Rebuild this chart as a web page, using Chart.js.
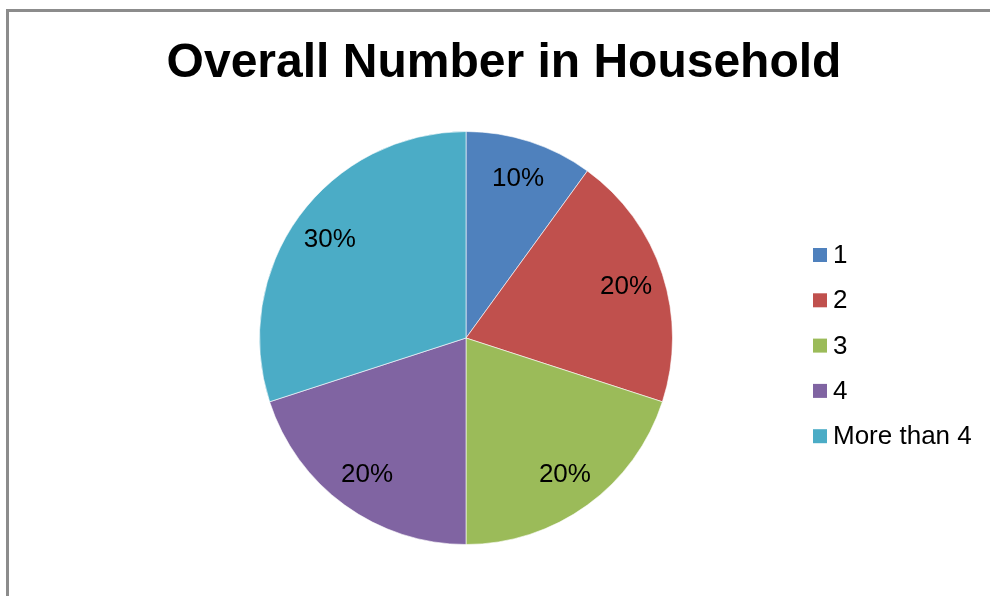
<!DOCTYPE html>
<html>
<head>
<meta charset="utf-8">
<script src="https://cdn.jsdelivr.net/npm/chart.js@4.4.1/dist/chart.umd.min.js"></script>
<style>
  html, body { margin: 0; padding: 0; background: #fff; overflow: hidden; }
  #frame {
    position: absolute; left: 6px; top: 9px; width: 1000px; height: 600px;
    border-left: 3px solid #8c8c8c; border-top: 3px solid #8c8c8c;
  }
  #wrap { position: absolute; left: 0; top: 0; width: 990px; height: 596px; }
</style>
</head>
<body>
<div id="frame"></div>
<div id="wrap"><canvas id="householdChart"></canvas></div>
<script>
const titleText = 'Overall Number in Household';
const categories = ['1', '2', '3', '4', 'More than 4'];
const shares = [10, 20, 20, 20, 30];
const sliceColors = ['#4f81bd', '#c0504d', '#9bbb59', '#8064a2', '#4bacc6'];

const FONT = '"Liberation Sans", Arial, sans-serif';

// title, percentage labels and the legend are painted after the pie
const decorations = {
  id: 'decorations',
  afterDraw(chart) {
    const ctx = chart.ctx;
    ctx.save();

    ctx.fillStyle = '#000';
    ctx.font = 'bold 48px ' + FONT;
    ctx.textAlign = 'center';
    ctx.textBaseline = 'alphabetic';
    ctx.fillText(titleText, 504, 77);

    // percentages inside the slices
    const meta = chart.getDatasetMeta(0);
    const total = shares.reduce((a, b) => a + b, 0);
    ctx.font = '26px ' + FONT;
    ctx.textBaseline = 'middle';
    meta.data.forEach((arc, i) => {
      const p = arc.getProps(['x', 'y', 'startAngle', 'endAngle', 'outerRadius'], true);
      const mid = (p.startAngle + p.endAngle) / 2;
      const r = p.outerRadius * 0.815;
      const pct = Math.round(shares[i] / total * 100) + '%';
      ctx.fillText(pct, p.x + Math.cos(mid) * r, p.y + Math.sin(mid) * r + 1);
    });

    // legend on the right
    ctx.textAlign = 'left';
    categories.forEach((name, i) => {
      const cy = 255 + i * 45.3;
      ctx.fillStyle = sliceColors[i];
      ctx.fillRect(813, cy - 7, 14, 14);
      ctx.fillStyle = '#000';
      ctx.fillText(name, 833, cy + 1);
    });

    ctx.restore();
  }
};

new Chart(document.getElementById('householdChart'), {
  type: 'pie',
  data: {
    labels: categories,
    datasets: [{
      data: shares,
      backgroundColor: sliceColors,
      borderColor: 'rgba(255,255,255,0.6)',
      borderWidth: 1
    }]
  },
  options: {
    responsive: true,
    maintainAspectRatio: false,
    animation: false,
    layout: { padding: { top: 131, bottom: 51, left: 200, right: 258 } },
    plugins: {
      legend: { display: false },
      title: { display: false },
      tooltip: { enabled: false }
    }
  },
  plugins: [decorations]
});
</script>
</body>
</html>
